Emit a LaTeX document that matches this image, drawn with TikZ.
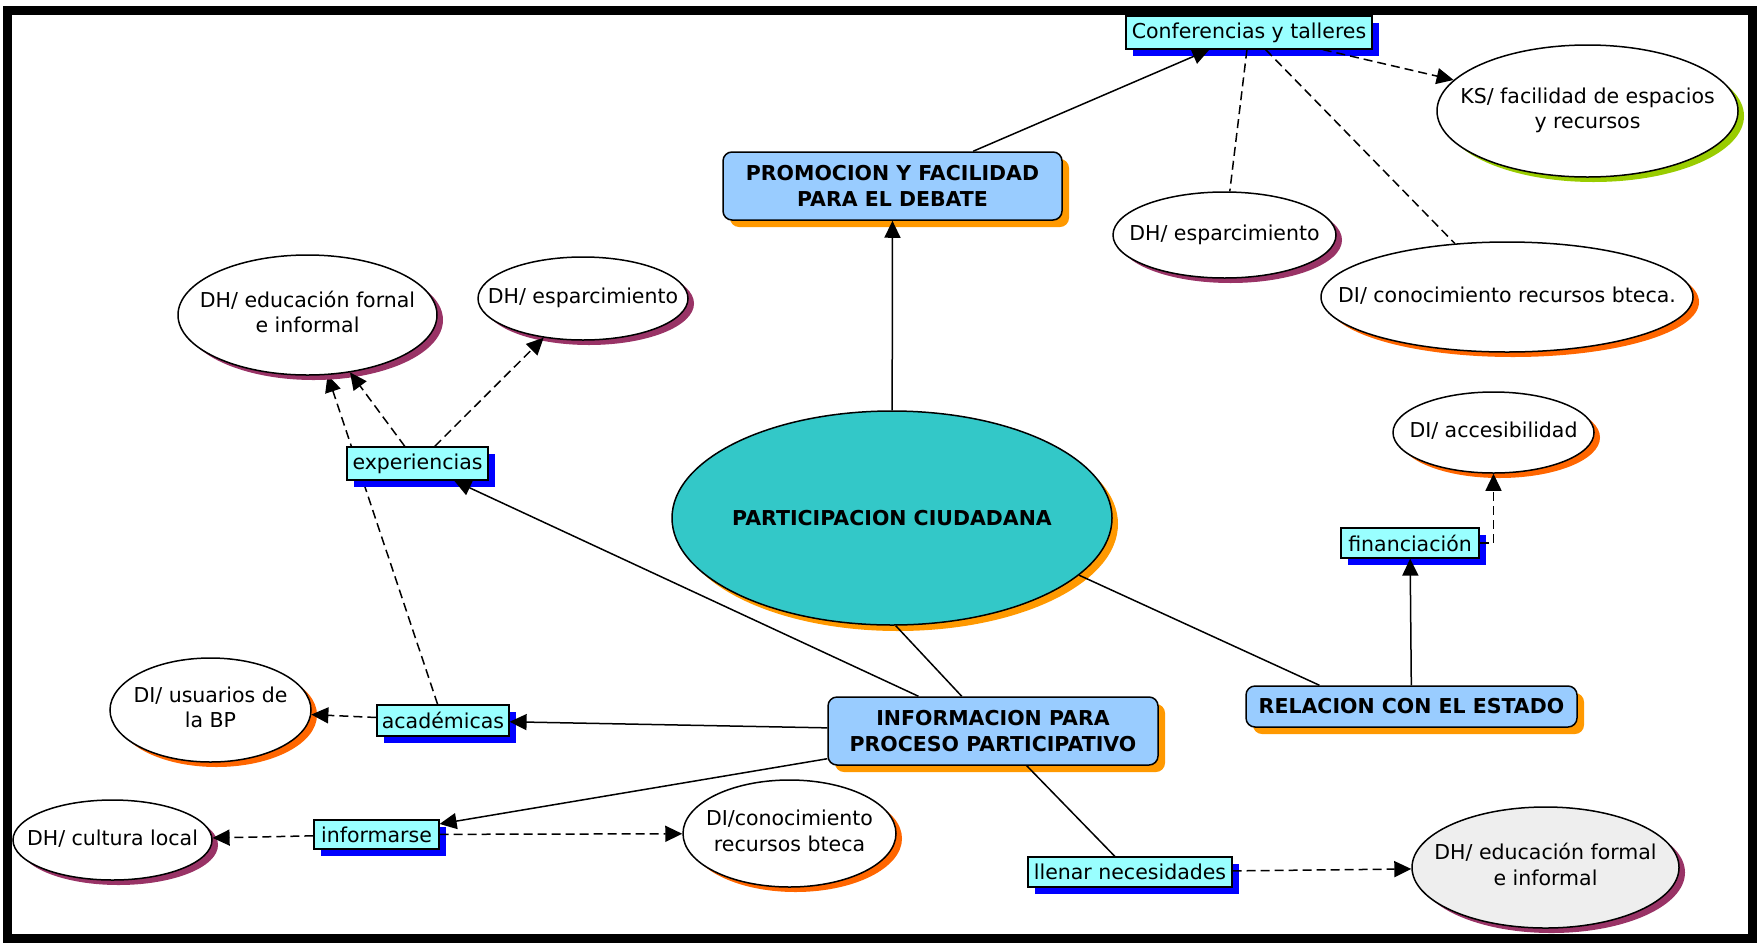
\documentclass[tikz,border=0pt]{standalone}
\usepackage{fontspec}
\setmainfont{DejaVu Sans}
\usetikzlibrary{shapes.geometric,shadows,arrows.meta,backgrounds}

\definecolor{conceptblue}{HTML}{99CCFF}
\definecolor{linkcyan}{HTML}{99FFFF}
\definecolor{shadowblue}{HTML}{0000FF}
\definecolor{shadoworange}{HTML}{FF9900}
\definecolor{partteal}{HTML}{33C8C8}
\definecolor{dhpurple}{HTML}{993366}
\definecolor{diorange}{HTML}{FF6600}
\definecolor{ksgreen}{HTML}{99CC00}
\definecolor{formgray}{HTML}{EEEEEE}

\newcommand{\cmfont}{\fontsize{20.5}{25.5}\selectfont}
\newcommand{\ctr}[1]{\makebox[0pt]{\begin{tabular}{@{}c@{}}#1\end{tabular}}}

\tikzset{
  concept/.style={draw, line width=1.5pt, rounded corners=9pt, fill=conceptblue,
    font=\cmfont\bfseries, align=center, inner sep=2pt,
    drop shadow={shadow xshift=7pt, shadow yshift=-7pt, fill=shadoworange, opacity=1}},
  linkbox/.style={draw, line width=1.2pt, fill=linkcyan, font=\cmfont, inner sep=2pt,
    drop shadow={shadow xshift=7pt, shadow yshift=-7pt, fill=shadowblue, opacity=1}},
  idea/.style={ellipse, draw, line width=1.5pt, fill=white, font=\cmfont, inner sep=0pt,
    drop shadow={shadow xshift=6pt, shadow yshift=-5pt, fill=#1, opacity=1}},
  link/.style={line width=1.5pt},
  dlink/.style={line width=1.5pt, dash pattern=on 9pt off 5pt},
  tip/.style={-{Triangle[length=17pt,width=16pt]}}
}

\begin{document}
\begin{tikzpicture}[x=1pt, y=-1pt]
            \useasboundingbox (0,0) rectangle (1760,943);
            \draw[line width=9pt] (7.5,10) rectangle (1752,938);

            \node[ellipse, draw, line width=1.5pt, fill=partteal, minimum width=440pt, minimum height=214pt,
              inner sep=0pt, font=\cmfont\bfseries,
              drop shadow={shadow xshift=6pt, shadow yshift=-6pt, fill=shadoworange, opacity=1}]
              (part) at (892,518) {\makebox[0pt]{PARTICIPACION CIUDADANA}};

            \node[concept, minimum width=339pt, minimum height=68pt] (promo) at (892.5,186) {PROMOCION Y FACILIDAD\\PARA EL DEBATE};
            \node[concept, minimum width=330pt, minimum height=68pt] (inform) at (993,731) {INFORMACION PARA\\PROCESO PARTICIPATIVO};
            \node[concept, minimum width=331pt, minimum height=41pt] (relac) at (1411.5,706.5) {RELACION CON EL ESTADO};

            \node[linkbox, minimum width=246pt, minimum height=33pt] (conf) at (1249,32.5) {Conferencias y talleres};
            \node[linkbox, minimum width=141pt, minimum height=33pt] (exper) at (417.5,463.5) {experiencias};
            \node[linkbox, minimum width=138pt, minimum height=30pt] (financ) at (1410,543) {financiación};
            \node[linkbox, minimum width=132pt, minimum height=31pt] (acad) at (443,720.5) {académicas};
            \node[linkbox, minimum width=125pt, minimum height=29pt] (infor) at (376.5,834.5) {informarse};
            \node[linkbox, minimum width=204pt, minimum height=30pt] (llenar) at (1130,872) {llenar necesidades};

            \node[idea=ksgreen, minimum width=301pt, minimum height=132pt] (ks) at (1587.5,111) {\ctr{KS/ facilidad de espacios\\y recursos}};
            \node[idea=dhpurple, minimum width=223pt, minimum height=86pt] (dhesptop) at (1224.5,235) {\ctr{DH/ esparcimiento}};
            \node[idea=diorange, minimum width=372pt, minimum height=110pt] (diconoc) at (1507,297) {\ctr{DI/ conocimiento recursos bteca.}};
            \node[idea=dhpurple, minimum width=259pt, minimum height=120pt] (dheduc) at (307.5,315) {\ctr{DH/ educación fornal\\e informal}};
            \node[idea=dhpurple, minimum width=210pt, minimum height=83pt] (dhesp) at (583,298.5) {\ctr{DH/ esparcimiento}};
            \node[idea=diorange, minimum width=201pt, minimum height=81pt] (diacc) at (1493.5,432.5) {\ctr{DI/ accesibilidad}};
            \node[idea=diorange, minimum width=201pt, minimum height=104pt] (diusu) at (210.5,710) {\ctr{DI/ usuarios de\\la BP}};
            \node[idea=dhpurple, minimum width=199pt, minimum height=80pt] (dhcult) at (112.5,840) {\ctr{DH/ cultura local}};
            \node[idea=diorange, minimum width=213pt, minimum height=107pt] (diconoc2) at (789.5,833.5) {\ctr{DI/conocimiento\\recursos bteca}};
            \node[idea=dhpurple, fill=formgray, minimum width=267pt, minimum height=121pt] (dheduc2) at (1545.5,867.5) {\ctr{DH/ educación formal\\e informal}};

            \draw[link,tip] (part) -- (promo);
            \draw[link,tip] (promo) -- (conf);
            \draw[dlink,tip] (conf) -- (ks);
            \draw[dlink] (conf) -- (dhesptop);
            \draw[dlink] (conf) -- (diconoc);

            \draw[dlink,tip] (exper) -- (dheduc);
            \draw[dlink,tip] (exper) -- (dhesp);
            \begin{pgfonlayer}{background}
            \draw[dlink,tip] (acad) -- (dheduc);
            \end{pgfonlayer}

            \draw[link,tip] (inform) -- (exper);
            \draw[link] (part.-88) -- (inform.132);
            \draw[link] (part.-17.5) -- (relac.167);
            \draw[link,tip] (relac) -- (financ);
            \draw[dlink,tip] (financ.east) -| (diacc.south);

            \draw[link,tip] (inform) -- (acad);
            \draw[dlink,tip] (acad) -- (diusu);
            \draw[link,tip] (inform) -- (infor);
            \draw[dlink,tip] (infor) -- (dhcult);
            \draw[dlink,tip] (infor) -- (diconoc2);
            \draw[link] (inform) -- (llenar);
            \draw[dlink,tip] (llenar) -- (dheduc2);
        \end{tikzpicture}
\end{document}
